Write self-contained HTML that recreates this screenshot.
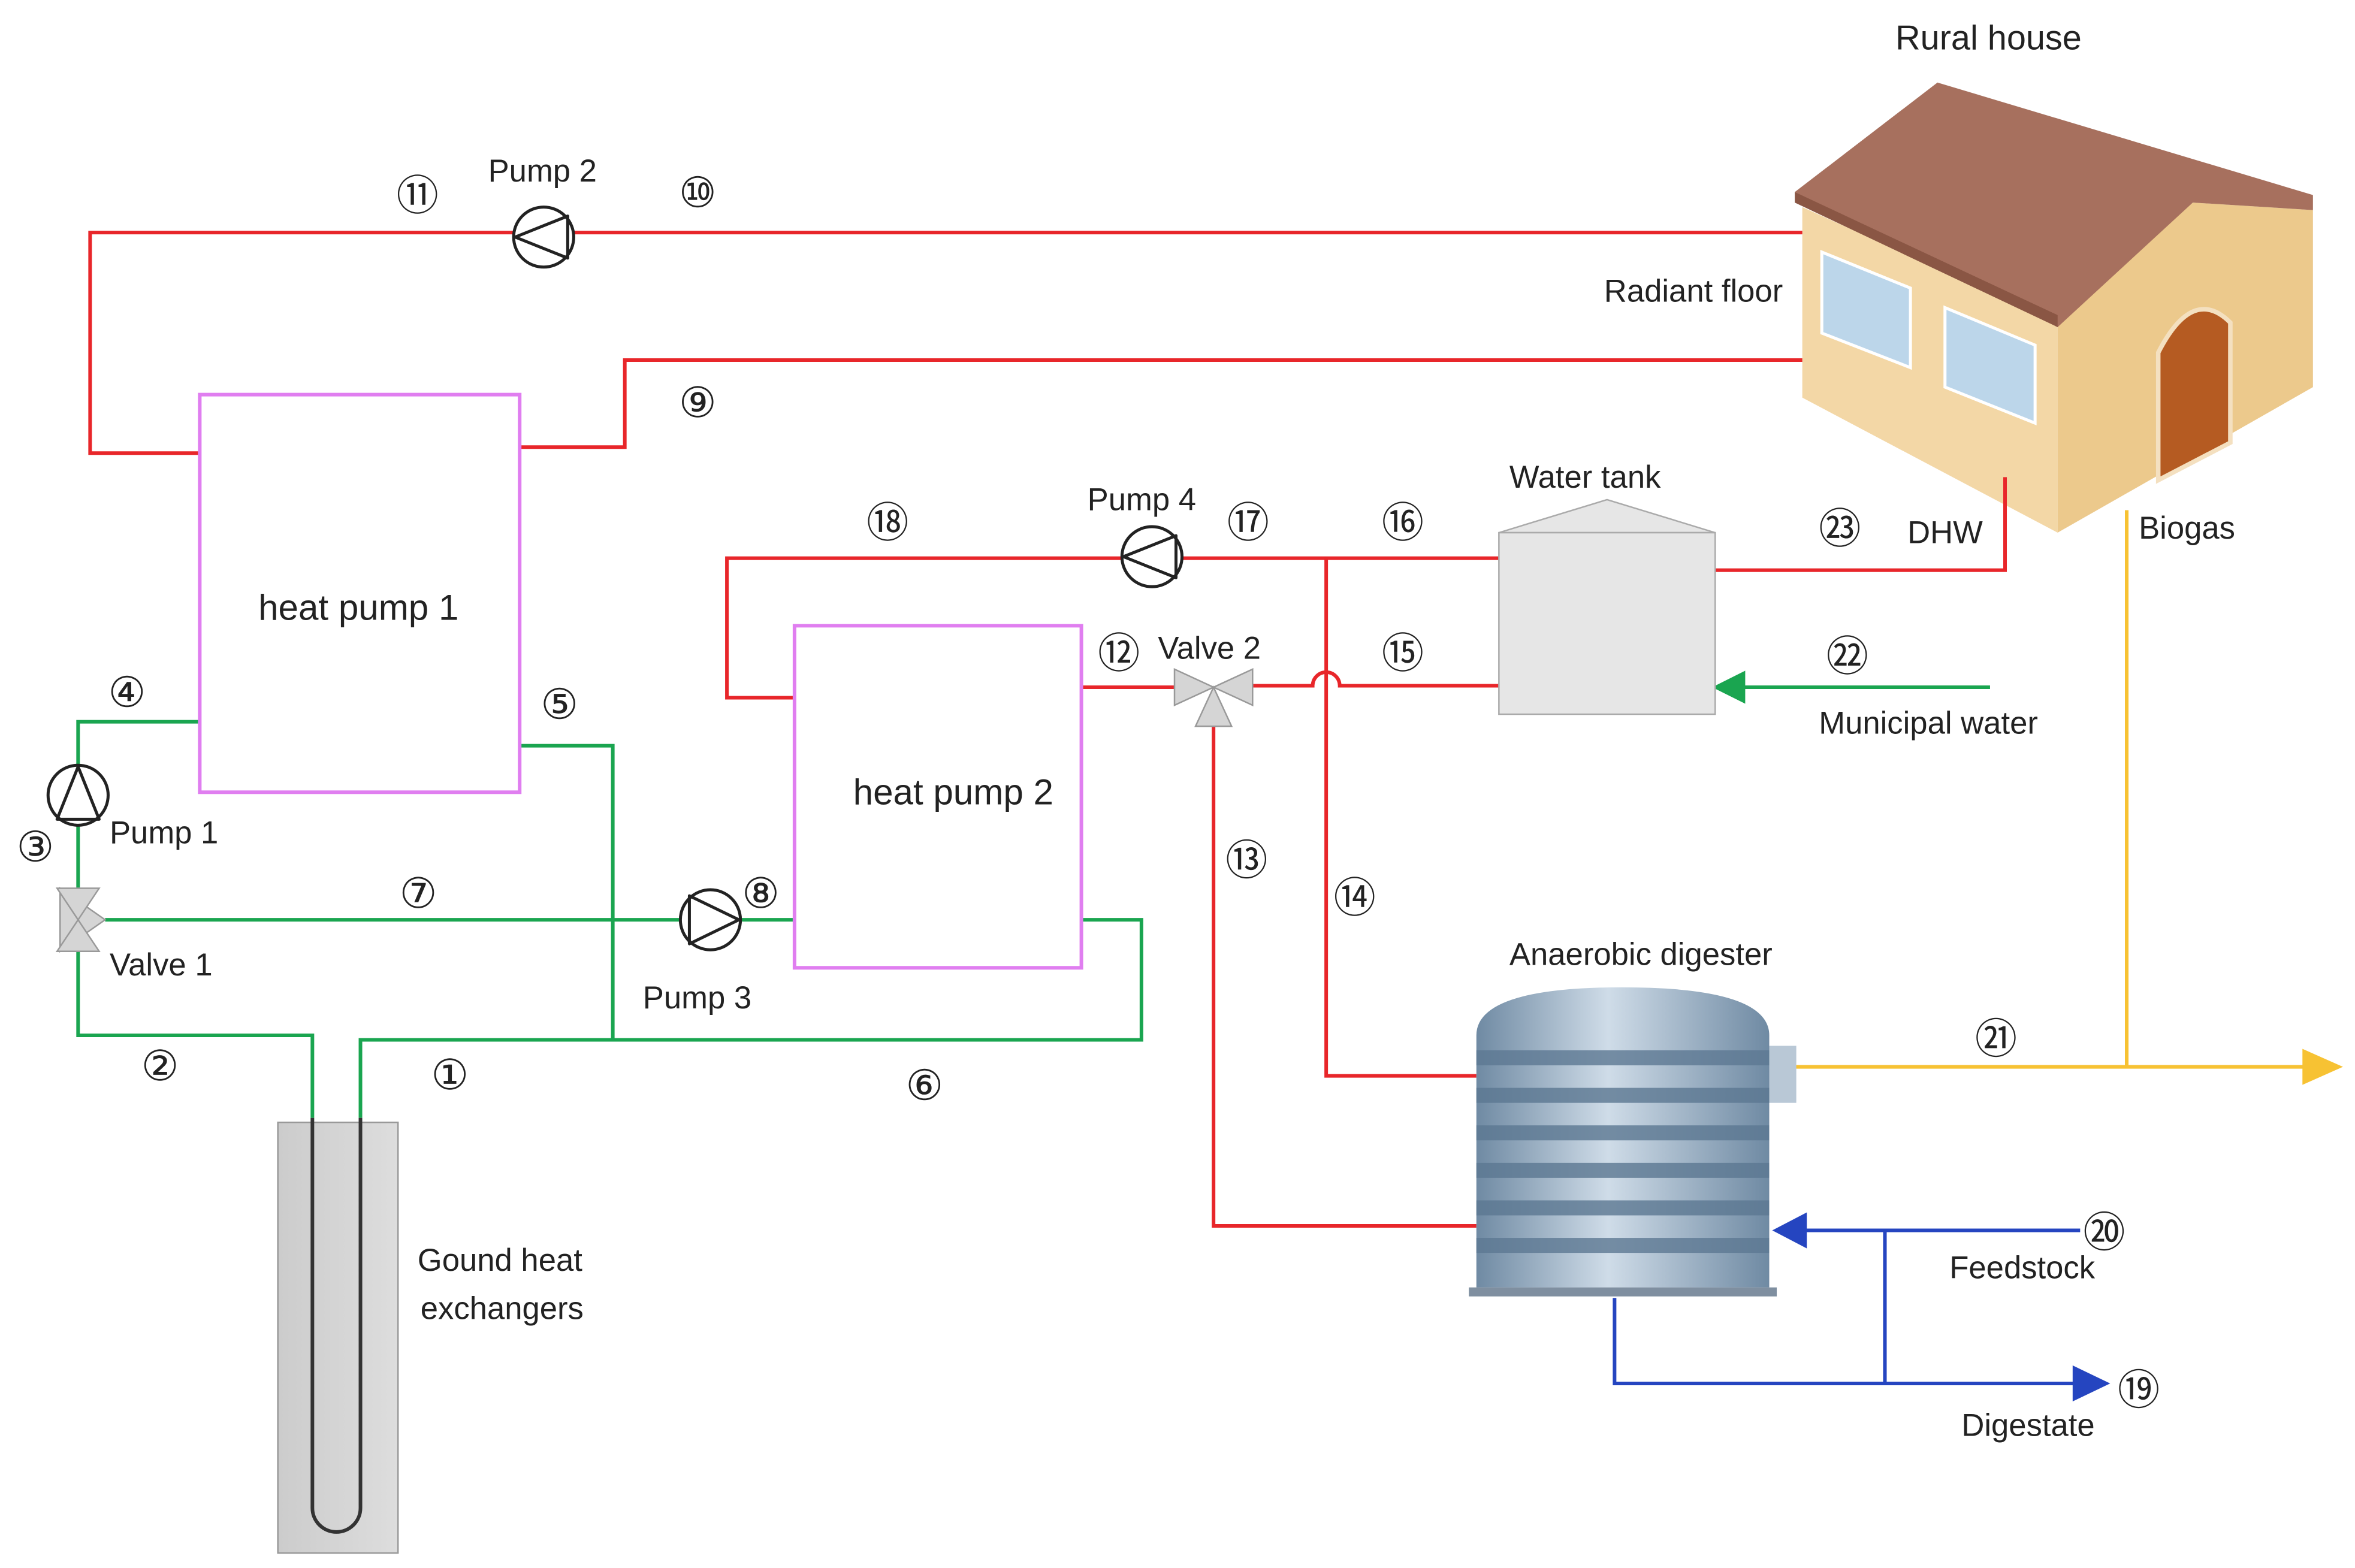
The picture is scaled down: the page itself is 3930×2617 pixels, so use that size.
<!DOCTYPE html>
<html><head><meta charset="utf-8"><style>
html,body{margin:0;padding:0;background:#fff}
svg{display:block}
text{font-family:"Liberation Sans","DejaVu Sans","Noto Sans CJK SC",sans-serif;font-size:21px;fill:#222}
.n{font-size:28px}
</style></head><body>
<svg width="3930" height="2617" viewBox="0 0 1568 1045" preserveAspectRatio="none" xmlns="http://www.w3.org/2000/svg">
<defs>
<linearGradient id="dg" x1="0" x2="1" y1="0" y2="0">
<stop offset="0" stop-color="#6f8aa3"/><stop offset="0.45" stop-color="#cfdce8"/><stop offset="1" stop-color="#6f8aa3"/>
</linearGradient>
<linearGradient id="gh" x1="0" x2="1"><stop offset="0" stop-color="#ccc"/><stop offset="1" stop-color="#ddd"/></linearGradient>
</defs>
<rect width="1568" height="1045" fill="#fff"/>
<!-- House -->
<polygon points="1200,138 1370,215 1370,355 1200,265" fill="#f3d7a6"/>
<polygon points="1370,215 1460,135 1540,140 1540,258 1370,355" fill="#ecc98c"/>
<polygon points="1195,128 1290,55 1540,130 1540,140 1460,135 1370,218" fill="#a7705e"/>
<polygon points="1195,128 1370,210 1370,218 1195,135" fill="#8a5644"/>
<polygon points="1213,168 1272,192 1272,245 1213,222" fill="#bcd6ea" stroke="#fff" stroke-width="2"/>
<polygon points="1295,205 1355,230 1355,282 1295,258" fill="#bcd6ea" stroke="#fff" stroke-width="2"/>
<path d="M1437,320 L1437,235 Q1460,190 1485,215 L1485,295 Z" fill="#b55b22" stroke="#f4e0c0" stroke-width="3"/>
<text x="1262" y="33" style="font-size:23px">Rural house</text>
<text x="1068" y="201">Radiant floor</text>
<!-- Red lines -->
<g fill="none" stroke="#e8262a" stroke-width="2.4">
<polyline points="1200,155 60,155 60,302 133,302"/>
<polyline points="346,298 416,298 416,240 1200,240"/>
<polyline points="529,465 484,465 484,372 998,372"/>
<polyline points="720,458 790,458"/>
<path d="M826,457 L874,457 A9,9 0 0 1 892,457 L998,457"/>
<polyline points="883,372 883,717 983,717"/>
<polyline points="808,478 808,817 983,817"/>
<polyline points="1142,380 1335,380 1335,318"/>
</g>
<!-- Green lines -->
<g fill="none" stroke="#1aa550" stroke-width="2.4">
<polyline points="133,481 52,481 52,595"/>
<polyline points="52,632 52,690 208,690 208,745"/>
<polyline points="240,745 240,693 760,693 760,613 720,613"/>
<polyline points="346,497 408,497 408,693"/>
<polyline points="70,613 529,613"/>
<polyline points="1325,458 1160,458"/>
</g>
<polygon points="1140,458 1162,447 1162,469" fill="#1aa550"/>
<!-- Yellow -->
<g fill="none" stroke="#f7c233" stroke-width="2.4">
<polyline points="1416,340 1416,711"/>
<polyline points="1195,711 1535,711"/>
</g>
<polygon points="1560,711 1533,699 1533,723" fill="#f7c233"/>
<!-- Blue -->
<g fill="none" stroke="#2545c0" stroke-width="2.4">
<polyline points="1385,820 1200,820"/>
<polyline points="1255,820 1255,922"/>
<polyline points="1075,865 1075,922 1382,922"/>
</g>
<polygon points="1180,820 1203,808 1203,832" fill="#2545c0"/>
<polygon points="1405,922 1380,910 1380,934" fill="#2545c0"/>
<!-- Boxes -->
<rect x="133" y="263" width="213" height="265" fill="#fff" stroke="#e07ef0" stroke-width="2.4"/>
<rect x="529" y="417" width="191" height="228" fill="#fff" stroke="#e07ef0" stroke-width="2.4"/>
<text x="172" y="413" style="font-size:24px">heat pump 1</text>
<text x="568" y="536" style="font-size:24px">heat pump 2</text>
<!-- Water tank -->
<polygon points="998,355 1070,333 1142,355" fill="#e6e6e6" stroke="#aaa"/>
<rect x="998" y="355" width="144" height="121" fill="#e6e6e6" stroke="#aaa"/>
<text x="1005" y="325">Water tank</text>
<!-- Digester -->
<rect x="1178" y="697" width="18" height="38" fill="#b9c8d6"/>
<path d="M983,690 Q983,658 1080,658 Q1178,658 1178,690 L1178,858 L983,858 Z" fill="url(#dg)"/>
<g fill="#5c7892" opacity="0.8">
<rect x="983" y="700" width="195" height="10"/><rect x="983" y="725" width="195" height="10"/>
<rect x="983" y="750" width="195" height="10"/><rect x="983" y="775" width="195" height="10"/>
<rect x="983" y="800" width="195" height="10"/><rect x="983" y="825" width="195" height="10"/>
</g>
<rect x="978" y="858" width="205" height="6" fill="#7f8fa0"/>
<text x="1005" y="643">Anaerobic digester</text>
<!-- Ground HX -->
<rect x="185" y="748" width="80" height="287" fill="url(#gh)" stroke="#999"/>
<path d="M208,745 L208,1005 A16,16 0 0 0 240,1005 L240,745" fill="none" stroke="#333" stroke-width="2.4"/>
<text x="278" y="847">Gound heat</text>
<text x="280" y="879">exchangers</text>
<!-- Pumps -->
<g fill="#fff" stroke="#222" stroke-width="2">
<circle cx="362" cy="158" r="20"/><circle cx="767" cy="371" r="20"/>
<circle cx="52" cy="530" r="20"/><circle cx="473" cy="613" r="20"/>
</g>
<g fill="none" stroke="#222" stroke-width="2" stroke-linejoin="round">
<polygon points="378,144 343,158 378,172"/>
<polygon points="783,357 748,371 783,385"/>
<polygon points="38,546 52,511 66,546"/>
<polygon points="459,597 492,613 459,629"/>
</g>
<!-- Valves -->
<g fill="#d5d5d5" stroke="#999">
<polygon points="40,592 70,613 40,634"/><polygon points="38,592 66,592 52,613"/><polygon points="38,634 66,634 52,613"/>
<polygon points="782,446 808,458 782,470"/><polygon points="834,446 808,458 834,470"/><polygon points="796,484 820,484 808,458"/>
</g>
<!-- Labels -->
<text x="325" y="121">Pump 2</text>
<text x="724" y="340">Pump 4</text>
<text x="73" y="562">Pump 1</text>
<text x="428" y="672">Pump 3</text>
<text x="73" y="650">Valve 1</text>
<text x="771" y="439">Valve 2</text>
<text x="1270" y="362">DHW</text>
<text x="1424" y="359">Biogas</text>
<text x="1211" y="489">Municipal water</text>
<text x="1298" y="852">Feedstock</text>
<text x="1306" y="957">Digestate</text>
<g>
<text class="n" x="264" y="140">⑪</text><text class="n" x="452" y="138">⑩</text>
<text class="n" x="452" y="278">⑨</text><text class="n" x="577" y="358">⑱</text>
<text class="n" x="817" y="358">⑰</text><text class="n" x="920" y="358">⑯</text>
<text class="n" x="1211" y="362">㉓</text><text class="n" x="731" y="445">⑫</text>
<text class="n" x="920" y="445">⑮</text><text class="n" x="1216" y="447">㉒</text>
<text class="n" x="72" y="471">④</text><text class="n" x="360" y="479">⑤</text>
<text class="n" x="11" y="574">③</text><text class="n" x="266" y="605">⑦</text>
<text class="n" x="494" y="605">⑧</text><text class="n" x="94" y="720">②</text>
<text class="n" x="287" y="726">①</text><text class="n" x="603" y="733">⑥</text>
<text class="n" x="816" y="583">⑬</text><text class="n" x="888" y="608">⑭</text>
<text class="n" x="1315" y="702">㉑</text><text class="n" x="1387" y="831">⑳</text>
<text class="n" x="1410" y="936">⑲</text>
</g>
</svg>
</body></html>
